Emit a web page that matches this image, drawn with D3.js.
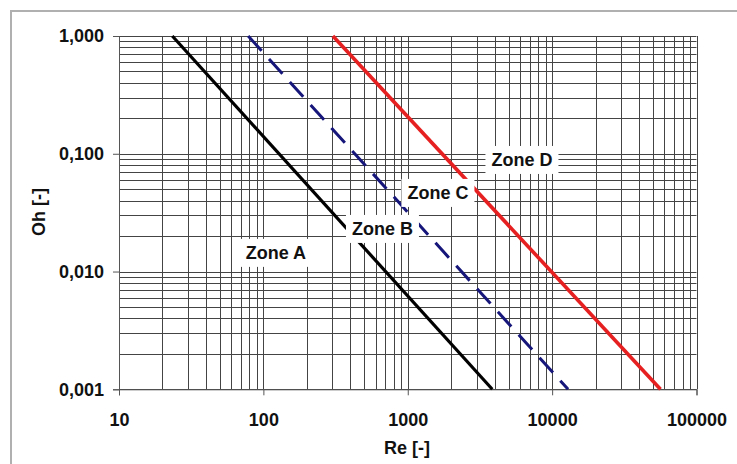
<!DOCTYPE html>
<html><head><meta charset="utf-8">
<script src="https://cdn.jsdelivr.net/npm/d3@7"></script>
<style>body{margin:0;background:#fff}svg{display:block}</style>
</head><body>
<svg id="c" width="737" height="464"></svg>
<script>
const xTicks = [10, 100, 1000, 10000, 100000];
const xTickLabels = ["10", "100", "1000", "10000", "100000"];
const yTicks = [0.001, 0.01, 0.1, 1];
const yTickLabels = ["0,001", "0,010", "0,100", "1,000"];
const xTitle = "Re [-]";
const yTitle = "Oh [-]";

const boundaryAB_Re = [23.4, 3850];
const boundaryAB_Oh = [1, 0.001];
const boundaryBC_Re = [78.5, 12900];
const boundaryBC_Oh = [1, 0.001];
const boundaryCD_Re = [303, 56300];
const boundaryCD_Oh = [1, 0.001];

const zoneLabels = ["Zone A", "Zone B", "Zone C", "Zone D"];
const zoneRe = [122, 668, 1618, 6180];
const zoneOh = [0.0144, 0.023, 0.0465, 0.0886];

const svg = d3.select("#c");
const L = 119, R = 696.5, T = 36, B = 389.3;
const x = d3.scaleLog().domain([10, 100000]).range([L, R]);
const y = d3.scaleLog().domain([0.001, 1]).range([B, T]);
const FONT = "Liberation Sans, Arial, sans-serif";
const FS = 18;

// outer frame
svg.append("rect").attr("x", 11).attr("y", 11).attr("width", 800).attr("height", 600)
  .attr("fill", "#fff").attr("stroke", "#b0b0b0").attr("stroke-width", 2);

// grid values
const xGrid = [], yGrid = [];
for (let d = 10; d < 100000; d *= 10) for (let k = 1; k < 10; k++) xGrid.push(d * k);
xGrid.push(100000);
for (let d = 0.001; d < 0.999; d *= 10) for (let k = 1; k < 10; k++) yGrid.push(d * k);
yGrid.push(1);

const g = svg.append("g");
g.selectAll("line.vx").data(xGrid).join("line")
  .attr("x1", d => Math.round(x(d)) + 0.5).attr("x2", d => Math.round(x(d)) + 0.5)
  .attr("y1", T).attr("y2", B).attr("stroke", "#444").attr("stroke-width", 1);
g.selectAll("line.hy").data(yGrid).join("line")
  .attr("y1", d => Math.round(y(d)) + 0.5).attr("y2", d => Math.round(y(d)) + 0.5)
  .attr("x1", L).attr("x2", R).attr("stroke", "#444").attr("stroke-width", 1);

// axes
const xAxis = d3.axisBottom(x).tickValues(xTicks).tickFormat((d, i) => xTickLabels[i]).tickSize(6).tickPadding(18);
const yAxis = d3.axisLeft(y).tickValues(yTicks).tickFormat((d, i) => yTickLabels[i]).tickSize(6).tickPadding(9);
const gx = svg.append("g").attr("transform", `translate(0,${B})`).call(xAxis);
const gy = svg.append("g").attr("transform", `translate(${L},0)`).call(yAxis);
[gx, gy].forEach(a => {
  a.select(".domain").attr("stroke", "#555");
  a.selectAll(".tick line").attr("stroke", "#555");
  a.selectAll("text").attr("font-family", FONT)
    .attr("font-weight", "bold").attr("font-size", FS).attr("fill", "#111");
});

// boundary lines
const line = d3.line().x(d => x(d[0])).y(d => y(d[1]));
const series = [
  {re: boundaryAB_Re, oh: boundaryAB_Oh, color: "#000", w: 3.2, dash: null},
  {re: boundaryBC_Re, oh: boundaryBC_Oh, color: "#15157a", w: 3, dash: "20,11"},
  {re: boundaryCD_Re, oh: boundaryCD_Oh, color: "#e62020", w: 3.6, dash: null}
];
series.forEach(s => {
  svg.append("path").datum(s.re.map((r, i) => [r, s.oh[i]]))
    .attr("d", line).attr("fill", "none").attr("stroke", s.color)
    .attr("stroke-width", s.w).attr("stroke-dasharray", s.dash);
});

// zone labels
zoneLabels.forEach((t, i) => {
  const cx = x(zoneRe[i]), cy = y(zoneOh[i]);
  const txt = svg.append("text").attr("x", cx).attr("y", cy).attr("text-anchor", "middle")
    .attr("dominant-baseline", "central").attr("font-family", FONT)
    .attr("font-weight", "bold").attr("font-size", FS).attr("fill", "#111").text(t);
  const bb = txt.node().getBBox();
  svg.insert("rect", () => txt.node()).attr("x", bb.x - 6).attr("y", cy - 14)
    .attr("width", bb.width + 12).attr("height", 28).attr("fill", "#fff");
});

// titles
svg.append("text").attr("x", 407).attr("y", 448).attr("text-anchor", "middle")
  .attr("dominant-baseline", "central").attr("font-family", FONT)
  .attr("font-weight", "bold").attr("font-size", FS).attr("fill", "#111").text(xTitle);
svg.append("text").attr("transform", "translate(39,212) rotate(-90)").attr("text-anchor", "middle")
  .attr("dominant-baseline", "central").attr("font-family", FONT)
  .attr("font-weight", "bold").attr("font-size", FS).attr("fill", "#111").text(yTitle);
</script>
</body></html>
